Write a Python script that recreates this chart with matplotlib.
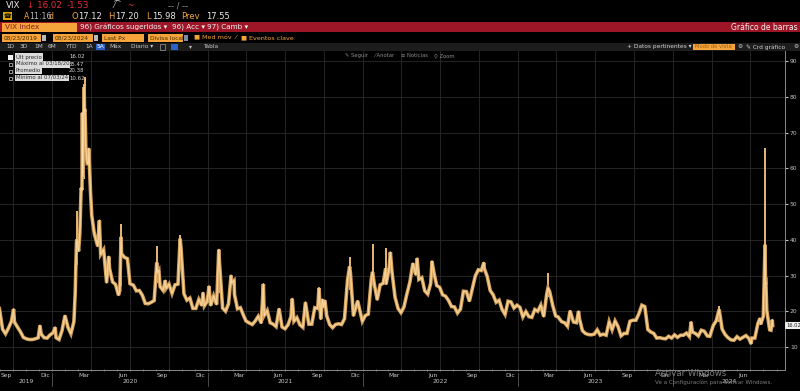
import matplotlib
matplotlib.use("Agg")
import matplotlib.pyplot as plt
import matplotlib.transforms as mtransforms
from matplotlib.patches import Rectangle
import pandas as pd

# ---------------- data (VIX, approx. weekly closes) ----------------
dates_2019 = ["2019-08-23", "2019-08-30", "2019-09-06", "2019-09-13", "2019-09-20", "2019-09-27",
              "2019-10-02", "2019-10-04", "2019-10-11", "2019-10-18", "2019-10-25", "2019-11-01",
              "2019-11-08", "2019-11-15", "2019-11-22", "2019-11-29", "2019-12-03", "2019-12-06",
              "2019-12-13", "2019-12-20", "2019-12-27"]
vix_2019 = [19.9, 20.5, 15.0, 13.7, 15.3, 17.2, 20.6, 17.0, 15.6, 14.3, 12.7, 12.3,
            12.1, 12.1, 12.3, 12.6, 16.0, 13.6, 12.6, 12.5, 13.4]

dates_2020 = ["2020-01-03", "2020-01-08", "2020-01-10", "2020-01-17", "2020-01-24", "2020-01-31",
              "2020-02-07", "2020-02-14", "2020-02-21", "2020-02-24", "2020-02-27", "2020-02-28",
              "2020-03-03", "2020-03-06", "2020-03-09", "2020-03-11", "2020-03-12", "2020-03-13",
              "2020-03-16", "2020-03-17", "2020-03-18", "2020-03-19", "2020-03-20", "2020-03-23",
              "2020-03-24", "2020-03-26", "2020-03-27", "2020-03-31", "2020-04-03", "2020-04-09",
              "2020-04-17", "2020-04-21", "2020-04-24", "2020-05-01", "2020-05-08", "2020-05-13",
              "2020-05-15", "2020-05-22", "2020-05-29", "2020-06-05", "2020-06-08", "2020-06-11",
              "2020-06-12", "2020-06-19", "2020-06-26", "2020-07-02", "2020-07-10", "2020-07-17",
              "2020-07-24", "2020-07-31", "2020-08-07", "2020-08-14", "2020-08-21", "2020-08-28",
              "2020-09-03", "2020-09-04", "2020-09-08", "2020-09-11", "2020-09-18", "2020-09-23",
              "2020-09-25", "2020-10-02", "2020-10-09", "2020-10-16", "2020-10-23", "2020-10-28",
              "2020-10-30", "2020-11-06", "2020-11-13", "2020-11-20", "2020-11-27", "2020-12-04",
              "2020-12-11", "2020-12-18", "2020-12-21", "2020-12-24", "2020-12-31"]
vix_2020 = [14.0, 15.5, 12.6, 12.1, 14.6, 18.8,
            15.5, 13.7, 17.1, 25.0, 39.2, 40.1,
            36.8, 41.9, 54.5, 53.9, 75.5, 57.8,
            82.7, 75.9, 76.5, 72.0, 66.0, 61.6,
            61.7, 61.0, 65.5, 53.5, 46.8, 41.7,
            38.2, 45.4, 35.9, 37.2, 28.0, 35.3,
            31.9, 28.2, 27.5, 24.5, 25.8, 40.8,
            36.1, 35.1, 34.7, 27.7, 27.3, 25.7,
            25.8, 24.5, 22.2, 22.1, 22.5, 23.0,
            33.6, 30.8, 31.5, 26.9, 25.8, 28.6,
            26.4, 27.6, 25.0, 27.4, 27.6, 40.3,
            38.0, 24.9, 23.1, 23.7, 20.8, 20.8,
            23.3, 21.6, 25.2, 21.5, 22.8]

dates_2021 = ["2021-01-04", "2021-01-08", "2021-01-15", "2021-01-22", "2021-01-27", "2021-01-29",
              "2021-02-05", "2021-02-12", "2021-02-19", "2021-02-25", "2021-02-26", "2021-03-04",
              "2021-03-05", "2021-03-12", "2021-03-19", "2021-03-26", "2021-04-01", "2021-04-09",
              "2021-04-16", "2021-04-23", "2021-04-30", "2021-05-07", "2021-05-12", "2021-05-14",
              "2021-05-21", "2021-05-28", "2021-06-04", "2021-06-11", "2021-06-18", "2021-06-25",
              "2021-07-02", "2021-07-09", "2021-07-16", "2021-07-19", "2021-07-23", "2021-07-30",
              "2021-08-06", "2021-08-13", "2021-08-19", "2021-08-27", "2021-09-03", "2021-09-10",
              "2021-09-17", "2021-09-20", "2021-09-24", "2021-09-28", "2021-10-01", "2021-10-04",
              "2021-10-08", "2021-10-15", "2021-10-22", "2021-10-29", "2021-11-05", "2021-11-12",
              "2021-11-19", "2021-11-26", "2021-12-01", "2021-12-03", "2021-12-10", "2021-12-17",
              "2021-12-20", "2021-12-31"]
vix_2021 = [27.0, 21.6, 24.3, 21.9, 37.2, 33.1,
            20.9, 20.0, 22.1, 30.0, 27.9, 28.6,
            24.7, 20.7, 21.0, 18.9, 17.3, 16.7,
            16.3, 17.3, 18.6, 16.7, 27.6, 18.8,
            20.2, 16.8, 16.4, 15.7, 20.7, 15.6,
            15.1, 16.2, 18.5, 23.5, 17.2, 18.2,
            16.2, 15.5, 22.5, 16.4, 16.4, 21.0,
            20.8, 26.5, 17.8, 23.3, 21.2, 23.0,
            18.8, 16.3, 15.4, 16.3, 16.5, 16.3,
            17.9, 28.6, 32.5, 30.7, 18.7, 21.6,
            22.9, 17.2]

dates_2022 = ["2022-01-07", "2022-01-14", "2022-01-21", "2022-01-24", "2022-01-28", "2022-02-04",
              "2022-02-11", "2022-02-18", "2022-02-24", "2022-02-25", "2022-03-04", "2022-03-07",
              "2022-03-11", "2022-03-18", "2022-03-25", "2022-04-01", "2022-04-08", "2022-04-14",
              "2022-04-22", "2022-04-29", "2022-05-06", "2022-05-09", "2022-05-13", "2022-05-20",
              "2022-05-27", "2022-06-03", "2022-06-10", "2022-06-13", "2022-06-17", "2022-06-24",
              "2022-07-01", "2022-07-08", "2022-07-15", "2022-07-22", "2022-07-29", "2022-08-05",
              "2022-08-12", "2022-08-19", "2022-08-26", "2022-09-02", "2022-09-09", "2022-09-16",
              "2022-09-23", "2022-09-30", "2022-10-07", "2022-10-13", "2022-10-14", "2022-10-21",
              "2022-10-28", "2022-11-04", "2022-11-11", "2022-11-18", "2022-11-25", "2022-12-02",
              "2022-12-09", "2022-12-16", "2022-12-23", "2022-12-30"]
vix_2022 = [18.8, 19.2, 28.9, 31.0, 27.7, 23.2,
            27.4, 27.8, 32.0, 27.6, 32.0, 36.5,
            30.8, 23.9, 20.8, 19.6, 21.2, 24.4,
            28.2, 33.4, 30.2, 34.8, 28.9, 29.4,
            25.7, 24.8, 27.8, 34.0, 31.1, 27.2,
            26.7, 24.6, 24.2, 23.0, 21.3, 21.2,
            19.5, 20.6, 25.6, 25.5, 22.8, 26.3,
            29.9, 31.6, 31.4, 33.6, 32.0, 29.7,
            25.8, 24.6, 22.5, 23.1, 20.5, 19.1,
            22.8, 22.6, 20.9, 21.7]

dates_2023 = ["2023-01-06", "2023-01-13", "2023-01-20", "2023-01-27", "2023-02-03", "2023-02-10",
              "2023-02-17", "2023-02-24", "2023-03-03", "2023-03-10", "2023-03-13", "2023-03-17",
              "2023-03-24", "2023-03-31", "2023-04-06", "2023-04-14", "2023-04-21", "2023-04-28",
              "2023-05-04", "2023-05-12", "2023-05-19", "2023-05-24", "2023-05-26", "2023-06-02",
              "2023-06-09", "2023-06-16", "2023-06-23", "2023-06-30", "2023-07-07", "2023-07-14",
              "2023-07-21", "2023-07-28", "2023-08-04", "2023-08-11", "2023-08-18", "2023-08-25",
              "2023-09-01", "2023-09-08", "2023-09-15", "2023-09-22", "2023-09-29", "2023-10-06",
              "2023-10-13", "2023-10-20", "2023-10-27", "2023-11-03", "2023-11-10", "2023-11-17",
              "2023-11-24", "2023-12-01", "2023-12-08", "2023-12-15", "2023-12-22", "2023-12-29"]
vix_2023 = [21.1, 18.4, 19.9, 18.5, 18.3, 20.5,
            20.0, 21.7, 18.5, 24.8, 26.5, 25.5,
            21.7, 18.7, 18.4, 17.1, 16.8, 15.8,
            20.1, 17.0, 16.8, 20.0, 18.0, 14.6,
            13.8, 13.5, 13.4, 13.6, 14.8, 13.3,
            13.6, 13.3, 17.1, 14.8, 17.3, 15.7,
            13.1, 13.8, 13.8, 17.2, 17.5, 17.5,
            19.3, 21.7, 21.3, 14.9, 14.2, 13.8,
            12.5, 12.6, 12.4, 12.3, 13.0, 12.5]

dates_2024 = ["2024-01-05", "2024-01-12", "2024-01-19", "2024-01-26", "2024-02-02", "2024-02-09",
              "2024-02-13", "2024-02-16", "2024-02-23", "2024-03-01", "2024-03-08", "2024-03-15",
              "2024-03-22", "2024-03-28", "2024-04-05", "2024-04-12", "2024-04-19", "2024-04-26",
              "2024-05-03", "2024-05-10", "2024-05-17", "2024-05-24", "2024-05-31", "2024-06-07",
              "2024-06-14", "2024-06-21", "2024-06-28", "2024-07-03", "2024-07-05", "2024-07-12",
              "2024-07-19", "2024-07-24", "2024-07-26", "2024-08-01", "2024-08-02", "2024-08-05",
              "2024-08-06", "2024-08-07", "2024-08-09", "2024-08-14", "2024-08-16", "2024-08-19",
              "2024-08-21", "2024-08-22", "2024-08-23"]
vix_2024 = [13.4, 12.7, 13.3, 13.3, 13.9, 12.9,
            17.0, 14.2, 13.8, 13.1, 14.7, 14.4,
            13.1, 13.0, 16.0, 17.3, 20.5, 15.0,
            13.5, 12.6, 12.0, 11.9, 12.9, 12.2,
            12.7, 13.2, 12.4, 10.9, 12.5, 12.5,
            16.5, 18.0, 16.4, 18.6, 23.4, 38.6,
            27.7, 27.9, 20.4, 16.2, 14.8, 14.7,
            16.3, 17.6, 16.02]

# intraday ranges on the big spike days (bar tops)
spike_dates = ["2020-02-28", "2020-03-16", "2020-03-18", "2020-06-11", "2020-09-04", "2020-10-28",
               "2021-01-27", "2021-12-01", "2022-01-24", "2022-02-24", "2023-03-13", "2024-04-19",
               "2024-08-05"]
spike_lows = [33.0, 57.0, 66.0, 27.0, 28.0, 33.0, 25.0, 26.0, 29.0, 30.0, 24.0, 17.0, 23.4]
spike_highs = [48.0, 83.6, 85.47, 44.4, 38.3, 41.2, 37.5, 35.3, 38.9, 37.8, 30.8, 21.4, 65.7]

y_ticks = [10, 20, 30, 40, 50, 60, 70, 80, 90]
month_labels = {3: "Mar", 6: "Jun", 9: "Sep", 12: "Dic"}
years = [2019, 2020, 2021, 2022, 2023, 2024]

last_px, max_px, avg_px, min_px = "16.02", "85.47", "20.38", "10.62"

# ---------------- figure ----------------
W, H = 800, 391
fig = plt.figure(figsize=(8, 3.91), dpi=100, facecolor="black")
FONT = ["DejaVu Sans", "Noto Sans", "Noto Sans CJK SC"]
ORANGE = "#f4a43a"
LINE = "#e9b874"


def fbox(x0, y0, x1, y1):
    return [x0 / W, 1 - y1 / H, (x1 - x0) / W, (y1 - y0) / H]


bg = fig.add_axes([0, 0, 1, 1], zorder=0)
bg.set_xlim(0, W); bg.set_ylim(H, 0); bg.axis("off")
bg.set_facecolor("black")

ov = fig.add_axes([0, 0, 1, 1], zorder=10)
ov.set_xlim(0, W); ov.set_ylim(H, 0); ov.axis("off")
ov.patch.set_alpha(0)


def t(a, x, y, s, c="#e0e0e0", fs=5, **kw):
    a.text(x, y, s, color=c, fontsize=fs, va="center", ha=kw.pop("ha", "left"), family=FONT, **kw)


# row 1
t(bg, 6, 6, "VIX", "#e8e8e8", 6.3)
t(bg, 27, 6, "↓ 16.02", "#e8283c", 6.3)
t(bg, 67, 6, "-1.53", "#e8283c", 6.3)
t(bg, 113, 5, "⁄⁀", "#dddddd", 5.5)
t(bg, 127, 6, "~", "#e8283c", 5.5)
t(bg, 168, 6, "-- / --", "#9a9a9a", 6)
# row 2
bg.add_patch(Rectangle((3, 12), 9, 8, facecolor="#d9a400", edgecolor="none"))
t(bg, 7.5, 16, "☎", "black", 4.5, ha="center")
t(bg, 24, 16.5, "A", ORANGE, 5.6)
t(bg, 29.5, 16.5, "11:16", "#b8b8b8", 5.6)
t(bg, 48.5, 16.5, "d", ORANGE, 5.6)
t(bg, 71, 16.5, "O", ORANGE, 6)
t(bg, 78, 16.5, "17.12", "#e8e8e8", 6)
t(bg, 108, 16.5, "H", ORANGE, 6)
t(bg, 115, 16.5, "17.20", "#e8e8e8", 6)
t(bg, 146, 16.5, "L", ORANGE, 6)
t(bg, 152, 16.5, "15.98", "#e8e8e8", 6)
t(bg, 181, 16.5, "Prev", ORANGE, 6)
t(bg, 206, 16.5, "17.55", "#e8e8e8", 6)
# row 3: red bar
bg.add_patch(Rectangle((0, 22), W, 10, facecolor="#9c1628", edgecolor="none"))
bg.add_patch(Rectangle((2, 22.5), 75, 9, facecolor="#f4a43a", edgecolor="none"))
t(bg, 5, 27.2, "VIX Index", "#8a1a1a", 5.2)
t(bg, 80, 27.2, "96) Gráficos sugeridos ▾", "#f2f2f2", 5.2)
t(bg, 172, 27.2, "96) Acc ▾", "#f2f2f2", 5.2)
t(bg, 207, 27.2, "97) Camb ▾", "#f2f2f2", 5.2)
t(bg, 798, 27.2, "Gráfico de barras", "#f2f2f2", 5.5, ha="right")
# row 4: orange input boxes
for x0, x1, lab in [(2, 41, "08/23/2019"), (53, 93, "08/23/2024"), (102, 144, "Last Px"),
                    (148, 183, "Divisa local")]:
    bg.add_patch(Rectangle((x0, 34), x1 - x0, 8, facecolor="#f4a43a", edgecolor="none"))
    t(bg, x0 + 1.5, 38.2, lab, "#4a2a00", 4.2)
for x0 in (42, 94):
    bg.add_patch(Rectangle((x0, 35), 4, 6, facecolor="#bbbbbb", edgecolor="none"))
bg.add_patch(Rectangle((184, 35), 4, 6, facecolor="#7a8aa8", edgecolor="none"))
t(bg, 194, 38.2, "■ Med móv  ⁄", ORANGE, 4.6)
t(bg, 241, 38.2, "■ Eventos clave", ORANGE, 4.6)
# row 5: grey toolbar
bg.add_patch(Rectangle((0, 43), W, 7.5, facecolor="#1d1d1d", edgecolor="none"))
for x, lab in [(6, "1D"), (20, "3D"), (34, "1M"), (48, "6M"), (65, "YTD"), (85, "1A"),
               (109, "Máx"), (131, "Diario ▾"), (189, "▾"), (203, "Tabla")]:
    t(bg, x, 46.8, lab, "#c8c8c8", 4.2)
bg.add_patch(Rectangle((96, 43.5), 9, 6.5, facecolor="#2a62c8", edgecolor="none"))
t(bg, 97, 46.8, "5A", "#ffffff", 4.2)
bg.add_patch(Rectangle((160, 44), 5, 5.5, facecolor="none", edgecolor="#999999", lw=0.5))
bg.add_patch(Rectangle((171, 43.5), 7, 6.5, facecolor="#2a62c8", edgecolor="none"))
t(bg, 627, 46.8, "+ Datos pertinentes ▾", "#d0d0d0", 4.2)
bg.add_patch(Rectangle((693, 43.5), 42, 6.5, facecolor="#f4a43a", edgecolor="none"))
t(bg, 695, 46.8, "Modo de vista", "#a06010", 3.8)
t(bg, 737, 46.8, "⚙", "#d0d0d0", 4.2)
t(bg, 746, 46.8, "✎ Crd gráfico", "#d0d0d0", 4.2)
t(bg, 793, 46.8, "⚙", "#d0d0d0", 4.2)

# ---------------- data axes ----------------
dates = pd.to_datetime(dates_2019 + dates_2020 + dates_2021 + dates_2022 + dates_2023 + dates_2024)
vix = vix_2019 + vix_2020 + vix_2021 + vix_2022 + vix_2023 + vix_2024

ax = fig.add_axes(fbox(0, 51, 785, 370), zorder=2)
ax.set_facecolor("black")
x_left, x_right = pd.Timestamp("2019-08-31"), pd.Timestamp("2024-09-21")
ax.set_xlim(x_left, x_right)
ax.set_ylim(3.57, 92.8)

# grid
for yv in y_ticks:
    ax.axhline(yv, color="#2a2a2a", lw=0.6, zorder=0)
for q in pd.date_range("2019-10-01", "2024-07-01", freq="QS"):
    ax.axvline(q, color="#2a2a2a", lw=0.6, zorder=0)

ax.vlines(pd.to_datetime(spike_dates), spike_lows, spike_highs, color=LINE, lw=1.4, zorder=3)
ax.plot(dates, vix, color="#c99a58", lw=2.6, zorder=4, solid_joinstyle="miter")
ax.plot(dates, vix, color=LINE, lw=1.5, zorder=5)
ax.plot(dates, vix, color="#ffe4b2", lw=0.45, zorder=6, alpha=0.9)

for s in ("top", "left"):
    ax.spines[s].set_visible(False)
for s in ("right", "bottom"):
    ax.spines[s].set_color("#8a8a8a")
    ax.spines[s].set_linewidth(0.7)

ax.yaxis.tick_right()
ax.set_yticks(y_ticks)
ax.set_yticklabels([str(v) for v in y_ticks])
ax.tick_params(axis="y", which="both", colors="#c0c0c0", labelsize=4.3, length=2, width=0.8, pad=1.5)

mid_months = [d for d in pd.date_range("2019-09-01", "2024-06-01", freq="MS") + pd.Timedelta(days=14)
              if d.month in month_labels]
ax.set_xticks(mid_months)
ax.set_xticklabels([month_labels[d.month] for d in mid_months])
ax.tick_params(axis="x", which="major", colors="#c8c8c8", labelsize=4.3, length=0, pad=2.5)
ax.set_xticks(pd.date_range("2019-09-01", "2024-09-01", freq="MS"), minor=True)
ax.tick_params(axis="x", which="minor", length=1.5, width=0.5, color="#8a8a8a", direction="inout")

trans = mtransforms.blended_transform_factory(ax.transData, ax.transAxes)
for yr in years:
    a = max(pd.Timestamp(f"{yr}-01-01"), x_left)
    b = min(pd.Timestamp(f"{yr + 1}-01-01"), x_right)
    ax.text(a + (b - a) / 2, -0.037, str(yr), transform=trans, color="#c8c8c8", fontsize=4.3,
            ha="center", va="center", family=FONT)
    if yr > 2019:
        ax.plot([pd.Timestamp(f"{yr}-01-01")] * 2, [-0.01, -0.05], transform=trans,
                color="#6a6a6a", lw=0.5, clip_on=False)

# last price label on right axis
ytrans = mtransforms.blended_transform_factory(ax.transAxes, ax.transData)
ax.annotate(last_px, xy=(1.0, float(last_px)), xycoords=ytrans,
            xytext=(0.8, 0), textcoords="offset points", fontsize=3.7, color="#222222",
            va="center", ha="left", family=FONT,
            bbox=dict(boxstyle="round,pad=0.2", fc="#f0f0f0", ec="none"), annotation_clip=False)

# ---------------- overlay: legend, toolbar, watermark ----------------
ov.add_patch(Rectangle((8, 54.5), 5, 5, facecolor="#f0f0f0", edgecolor="none"))
for yy in (64.5, 71, 78):
    ov.add_patch(Rectangle((9, yy - 1.5), 3, 3, facecolor="none", edgecolor="#cfcfcf", lw=0.5))
rows = [(57, "Últ precio", last_px), (64.5, "Máximo al 03/18/20", max_px),
        (71, "Promedio", avg_px), (78, "Mínimo al 07/03/24", min_px)]
for yy, lab, val in rows:
    ov.text(16, yy, lab, color="#2a2a2a", fontsize=3.9, va="center", ha="left", family=FONT,
            bbox=dict(boxstyle="square,pad=0.15", fc="#dcdcdc", ec="none"))
    ov.text(69, yy, val, color="#d8d8d8", fontsize=3.9, va="center", ha="left", family=FONT)

for x, lab in [(345, "✎ Seguir"), (375, "⁄ Anotar"), (401, "≡ Noticias"), (434, "⚲ Zoom")]:
    ov.text(x, 55.5, lab, color="#8c8c8c", fontsize=3.8, va="center", ha="left", family=FONT)

ov.text(655, 373, "Activar Windows", color="#7c7c7c", fontsize=6.2, va="center", ha="left", family=FONT)
ov.text(655, 382.5, "Ve a Configuración para activar Windows.", color="#7c7c7c", fontsize=4.1,
        va="center", ha="left", family=FONT)

fig.savefig("out.png", dpi=100, facecolor="black")
